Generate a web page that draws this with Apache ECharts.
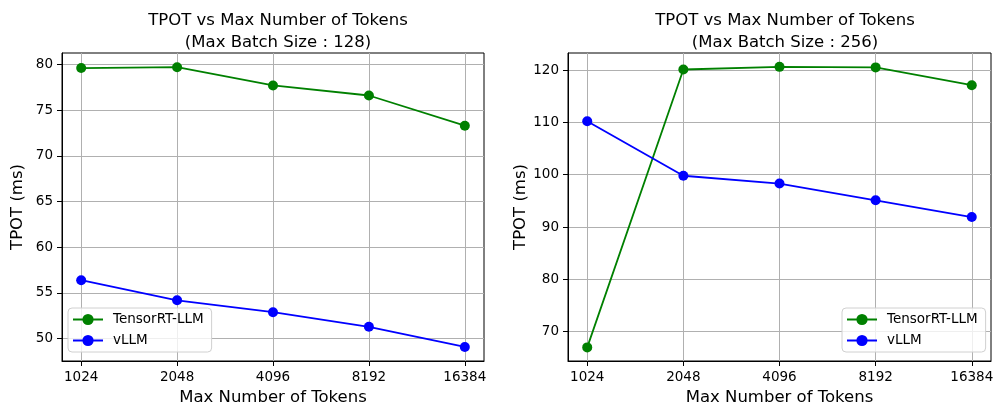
<!DOCTYPE html>
<html>
<head>
<meta charset="utf-8">
<script src="https://cdn.jsdelivr.net/npm/echarts@6/dist/echarts.min.js"></script>
<style>
  html, body { margin: 0; padding: 0; background: #fff; }
  #chart { width: 1003px; height: 418px; }
</style>
</head>
<body>
<div id="chart"></div>
<script>
const tokens = ['1024', '2048', '4096', '8192', '16384'];
const trt128 = [79.6, 79.7, 77.7, 76.6, 73.3];
const vllm128 = [56.4, 54.2, 52.9, 51.3, 49.1];
const trt256 = [67.0, 120.1, 120.6, 120.5, 117.1];
const vllm256 = [110.2, 99.8, 98.3, 95.1, 91.9];
const yTicks128 = [50, 55, 60, 65, 70, 75, 80];
const yTicks256 = [70, 80, 90, 100, 110, 120];
const titles = ['TPOT vs Max Number of Tokens\n(Max Batch Size : 128)', 'TPOT vs Max Number of Tokens\n(Max Batch Size : 256)'];
const seriesNames = ['TensorRT-LLM', 'vLLM'];

const FONT = 'DejaVu Sans';
const xIdx = tokens.map((_, i) => i);
const toPts = arr => arr.map((v, i) => [i, v]);

function xAxis(gi) {
  return {
    type: 'value', gridIndex: gi, min: -0.2, max: 4.2,
    name: 'Max Number of Tokens', nameLocation: 'middle', nameGap: 28,
    nameTextStyle: { fontFamily: FONT, fontSize: 16.5, color: '#000' },
    axisLine: { show: true, onZero: false, lineStyle: { color: '#000', width: 1 } },
    axisTick: { show: true, inside: false, length: 5, customValues: xIdx, lineStyle: { color: '#000' } },
    axisLabel: { customValues: xIdx, margin: 9, fontFamily: FONT, fontSize: 13.5, color: '#000',
      formatter: v => tokens[Math.round(v)] },
    splitLine: { show: true, lineStyle: { color: '#b0b0b0', width: 1 } }
  };
}
function yAxis(gi, min, max, ticks) {
  return {
    type: 'value', gridIndex: gi, min: min, max: max,
    name: 'TPOT (ms)', nameLocation: 'middle', nameGap: 36,
    nameTextStyle: { fontFamily: FONT, fontSize: 16.5, color: '#000' },
    axisLine: { show: true, onZero: false, lineStyle: { color: '#000', width: 1 } },
    axisTick: { show: true, inside: false, length: 5, customValues: ticks, lineStyle: { color: '#000' } },
    axisLabel: { customValues: ticks, margin: 9, fontFamily: FONT, fontSize: 13.5, color: '#000' },
    splitLine: { show: true, lineStyle: { color: '#b0b0b0', width: 1 } }
  };
}
function line(name, data, color, gi) {
  return {
    type: 'line', name: name, xAxisIndex: gi, yAxisIndex: gi, data: toPts(data),
    symbol: 'circle', symbolSize: 10, showSymbol: true,
    lineStyle: { color: color, width: 1.8 }, itemStyle: { color: color },
    emphasis: { disabled: true }, animation: false
  };
}
function legend(left) {
  return {
    data: seriesNames, orient: 'vertical', left: left, top: 308,
    itemWidth: 30, itemHeight: 14, itemGap: 6,
    padding: [4, 8, 4, 4],
    borderColor: '#d0d0d0', borderWidth: 1, borderRadius: 4,
    backgroundColor: 'rgba(255,255,255,0.8)',
    textStyle: { fontFamily: FONT, fontSize: 13.5, color: '#000', lineHeight: 15, padding: [0, 0, 0, 5] },
    selectedMode: false
  };
}

const chart = echarts.init(document.getElementById('chart'), null, { renderer: 'canvas' });
chart.setOption({
  backgroundColor: '#fff',
  animation: false,
  title: [
    { text: titles[0], left: 273, top: 5, textAlign: 'center',
      textStyle: { fontFamily: FONT, fontSize: 16.5, fontWeight: 'normal', color: '#000', lineHeight: 22 } },
    { text: titles[1], left: 780, top: 5, textAlign: 'center',
      textStyle: { fontFamily: FONT, fontSize: 16.5, fontWeight: 'normal', color: '#000', lineHeight: 22 } }
  ],
  grid: [
    { left: 62, right: 519, top: 53, bottom: 57, show: true, borderColor: '#000', borderWidth: 1, containLabel: false },
    { left: 568, right: 12, top: 53, bottom: 57, show: true, borderColor: '#000', borderWidth: 1, containLabel: false }
  ],
  xAxis: [xAxis(0), xAxis(1)],
  yAxis: [yAxis(0, 47.56, 81.25, yTicks128), yAxis(1, 64.4, 123.25, yTicks256)],
  legend: [legend(68), legend(842)],
  series: [
    line(seriesNames[0], trt128, '#008000', 0),
    line(seriesNames[1], vllm128, '#0000ff', 0),
    line(seriesNames[0], trt256, '#008000', 1),
    line(seriesNames[1], vllm256, '#0000ff', 1)
  ]
});
</script>
</body>
</html>
